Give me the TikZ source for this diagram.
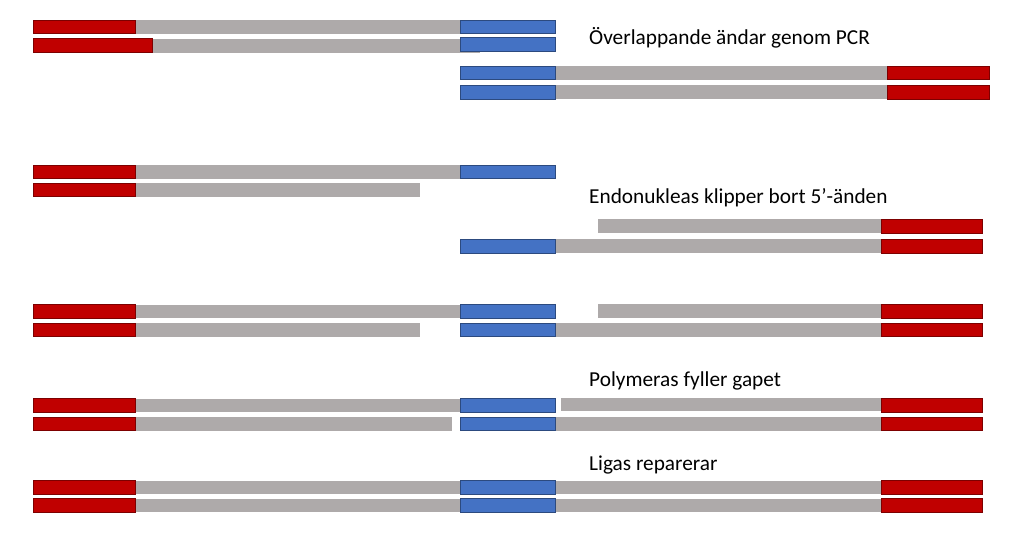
\documentclass[tikz,border=0pt]{standalone}
\usepackage{fontspec}
\setmainfont{Carlito}
\definecolor{dnared}{HTML}{C00000}
\definecolor{dnablue}{HTML}{4472C4}
\definecolor{dnagrey}{HTML}{AEAAAA}
\newcommand{\strand}[4]{\path[#1] ({#2},{#4}) rectangle ({#3},{#4+13.6});}
\tikzset{
  greybar/.style={fill=dnagrey},
  redbar/.style={fill=dnared, draw=dnared!65!black, line width=0.8pt},
  bluebar/.style={fill=dnablue, draw=dnablue!65!black, line width=0.8pt},
  steplabel/.style={anchor=base west, inner sep=0pt, font=\fontsize{21.3}{25}\selectfont},
}

\begin{document}
\begin{tikzpicture}[x=1pt,y=-1pt]
  \useasboundingbox (0,0) rectangle (1023,540);
  % Overlappande andar
  \strand{greybar}{135}{460}{20}
  \strand{greybar}{152}{480}{39}
  \strand{redbar}{33}{135}{20}
  \strand{redbar}{33}{152}{38.5}
  \strand{bluebar}{460}{555.5}{20}
  \strand{bluebar}{460}{555.5}{37.5}
  \foreach \y in {66,85.5} {
    \strand{greybar}{555.5}{887}{\y}
    \strand{bluebar}{460}{555.5}{\y}
    \strand{redbar}{887}{989}{\y}
  }
  \node[steplabel] (pcr) at (589,45) {Överlappande ändar genom PCR};
  % Endonukleas
  \strand{greybar}{135}{460}{165}
  \strand{greybar}{135}{420}{183}
  \strand{redbar}{33}{135}{165}
  \strand{redbar}{33}{135}{183}
  \strand{bluebar}{460}{555.5}{165}
  \strand{greybar}{597.5}{881.5}{219.5}
  \strand{redbar}{881.5}{982.5}{219.5}
  \strand{greybar}{555.5}{881.5}{239.5}
  \strand{bluebar}{460}{555.5}{239.5}
  \strand{redbar}{881.5}{982.5}{239.5}
  \node[steplabel] (endo) at (589,203.3) {Endonukleas klipper bort 5’-änden};
  % efter klippning
  \strand{greybar}{135}{460}{304.5}
  \strand{greybar}{135}{420}{323}
  \strand{greybar}{597.5}{881.5}{304}
  \strand{greybar}{555.5}{881.5}{323}
  \foreach \y in {304.5,323} {
    \strand{redbar}{33}{135}{\y}
    \strand{bluebar}{460}{555.5}{\y}
    \strand{redbar}{881.5}{982.5}{\y}
  }
  % Polymeras
  \strand{greybar}{135}{460}{398.5}
  \strand{greybar}{135}{452}{417}
  \strand{greybar}{560.5}{881.5}{397.5}
  \strand{greybar}{555.5}{881.5}{417}
  \foreach \y in {398.5,417} {
    \strand{redbar}{33}{135}{\y}
    \strand{bluebar}{460}{555.5}{\y}
    \strand{redbar}{881.5}{982.5}{\y}
  }
  \node[steplabel] (pol) at (589,386) {Polymeras fyller gapet};
  % Ligas
  \foreach \y in {480.7,498.7} {
    \strand{greybar}{135}{881.5}{\y}
    \strand{redbar}{33}{135}{\y}
    \strand{bluebar}{460}{555}{\y}
    \strand{redbar}{881.5}{982.5}{\y}
  }
  \node[steplabel] (lig) at (589,470.7) {Ligas reparerar};
\end{tikzpicture}
\end{document}
